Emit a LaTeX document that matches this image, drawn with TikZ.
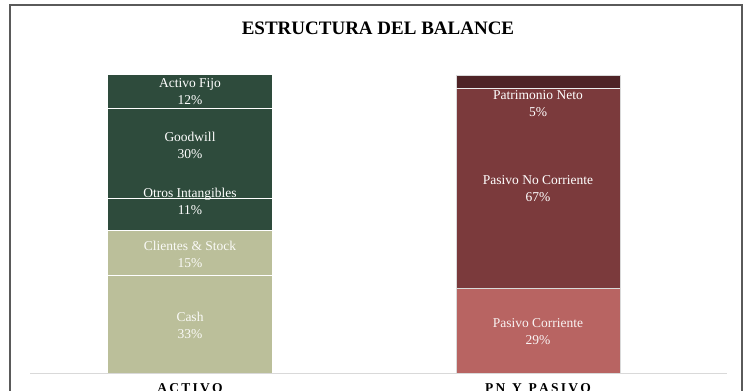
\documentclass[tikz,border=0pt]{standalone}
\usepackage{fontspec}
\setmainfont{Liberation Serif}
\definecolor{dgreen}{HTML}{2E4B3C}
\definecolor{olive}{HTML}{BBBF9A}
\definecolor{dred}{HTML}{4F2326}
\definecolor{mred}{HTML}{7B3A3C}
\definecolor{lred}{HTML}{B86462}
\definecolor{frame}{HTML}{5A5A5A}
\definecolor{axisgray}{HTML}{D9D9D9}
\tikzset{
  seglabel/.style={align=center, font=\fontsize{13.5}{17}\selectfont, text=white, inner sep=0pt},
  catlabel/.style={font=\bfseries\fontsize{13.5}{15}\selectfont, inner sep=0pt, anchor=base}
}
\begin{document}
\begin{tikzpicture}[x=1pt,y=-1pt]
\useasboundingbox (0,0) rectangle (748,391);
% outer frame
\draw[frame, line width=1.5pt] (10,400) -- (10,5) -- (742,5) -- (742,400);
% title
\node[font=\bfseries\fontsize{19}{22}\selectfont, inner sep=0pt] (title) at (378,28) {ESTRUCTURA DEL BALANCE};
% left bar
\fill[olive] (108,275) rectangle (272,373);
\fill[olive] (108,230) rectangle (272,275);
\fill[dgreen] (108,198) rectangle (272,230);
\fill[dgreen] (108,108) rectangle (272,198);
\fill[dgreen] (108,75) rectangle (272,108);
\draw[white, line width=1pt] (108,108) -- (272,108);
\draw[white, line width=1pt] (108,198) -- (272,198);
\draw[white, line width=1pt] (108,230) -- (272,230);
\draw[white, line width=1pt] (108,275) -- (272,275);
% right bar
\fill[lred] (456,288) rectangle (620,373);
\fill[mred] (456,88) rectangle (620,288);
\fill[dred] (456,75) rectangle (620,88);
\draw[axisgray, line width=0.8pt] (456,373) -- (456,75) -- (620,75) -- (620,373);
\draw[white!85!gray, line width=1pt] (456,88) -- (620,88);
\draw[axisgray, line width=1pt] (456,288) -- (620,288);
% axis
\draw[axisgray, line width=1pt] (30,373) -- (727,373);
% labels left
\node[seglabel] (fijo) at (190,92) {Activo Fijo\\12\%};
\node[seglabel] (goodwill) at (190,145) {Goodwill\\30\%};
\node[seglabel] (otros) at (190,201) {Otros Intangibles\\11\%};
\node[seglabel, text=white!92!olive] (clientes) at (190,254) {Clientes \& Stock\\15\%};
\node[seglabel, text=white!92!olive] (cash) at (190,325) {Cash\\33\%};
% labels right
\node[seglabel] (pn) at (538,104) {Patrimonio Neto\\5\%};
\node[seglabel] (pnc) at (538,189) {Pasivo No Corriente\\67\%};
\node[seglabel, text=white!92!lred] (pc) at (538,332) {Pasivo Corriente\\29\%};
% categories
\node[catlabel] (activo) at (190,392) {A\,C\,T\,I\,V\,O};
\node[catlabel] (pasivo) at (538,392) {P\,N\ \ Y\ \ P\,A\,S\,I\,V\,O};
\end{tikzpicture}
\end{document}
